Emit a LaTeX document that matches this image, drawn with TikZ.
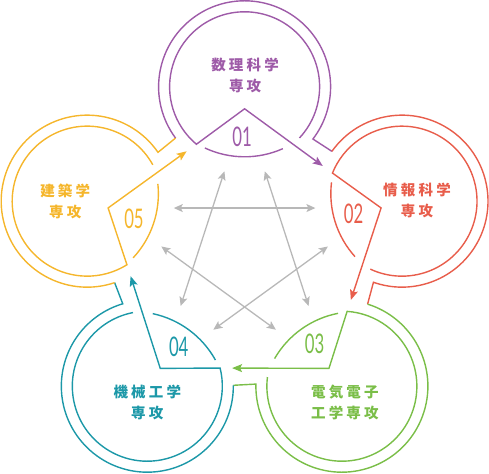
\documentclass[tikz,border=0pt]{standalone}
\usepackage{fontspec}
\usetikzlibrary{arrows.meta}
\newfontfamily\jpfont[LetterSpace=22]{Noto Sans CJK JP}
\newfontfamily\numfont[FakeStretch=0.62]{Lato}
\definecolor{cpurple}{HTML}{9E5BA8}
\definecolor{cred}{HTML}{E85D4B}
\definecolor{cgreen}{HTML}{7ABE48}
\definecolor{cteal}{HTML}{1C98A8}
\definecolor{cyellow}{HTML}{F5B62C}
\definecolor{cgray}{HTML}{B8B8B8}

\begin{document}
\begin{tikzpicture}[
    x=1pt, y=1pt,
    ring/.style={line width=1.4pt},
    flow/.style={ring, -{Stealth[length=10pt,width=8pt,inset=2pt]}, shorten >=12pt},
    link/.style={line width=1.3pt, draw=cgray, {Stealth[length=9pt,width=8pt,inset=2pt]}-{Stealth[length=9pt,width=8pt,inset=2pt]}},
    fieldname/.style={font=\jpfont\bfseries\fontsize{14.5}{21}\selectfont, align=center, inner sep=0pt},
    num/.style={font=\numfont\fontsize{27}{27}\selectfont, inner sep=0pt}
  ]
  \useasboundingbox (0,0) rectangle (489,473);

  % points of the five units
  \foreach \k in {1,...,5}{
    \pgfmathsetmacro\t{162-72*\k}
    \begin{scope}[shift={(244.6,220.7)}]
      \coordinate (g\k m) at ({\t-14}:83.5);
      \coordinate (g\k p) at ({\t+14}:83.5);
    \end{scope}
    \begin{scope}[shift={(244.6,220.7)}, shift={(\t:165.5)}, rotate=\t-90]
      \coordinate (c\k) at (0,0);
      \coordinate (a\k) at (0,-22);
      \coordinate (v\k) at (230:75);
      \coordinate (os\k) at (216.6:86);
    \end{scope}
  }

  % grey star
  \foreach \k in {1,...,5}{
    \pgfmathtruncatemacro\j{mod(\k+1,5)+1}
    \draw[link] (g\k m) -- (g\j p);
  }

  % rings and flow arrows
  \foreach \k/\col in {1/cpurple, 2/cred, 3/cgreen, 4/cteal, 5/cyellow}{
    \pgfmathsetmacro\t{162-72*\k}
    \pgfmathtruncatemacro\n{mod(\k,5)+1}
    \begin{scope}[shift={(244.6,220.7)}, shift={(\t:165.5)}, rotate=\t-90, color=\col]
      \draw[ring] (os\k) arc[start angle=216.6, end angle=-37.4, radius=86pt] -- (os\n);
      \draw[flow] (-43:75) arc[start angle=-43, end angle=230, radius=75pt] -- (a\k) -- (v\n);
      \draw[ring] (0,24) ++(245:94) arc[start angle=245, end angle=294, radius=94pt];
      \node[num] (n\k) at (-2.5,-50) {0\k};
    \end{scope}
  }

  \node[fieldname, cpurple] (f1) at ([shift={(0.5,11)}]c1) {数理科学\\専攻};
  \node[fieldname, cred] (f2) at ([shift={(15,1)}]c2) {情報科学\\専攻};
  \node[fieldname, cgreen] (f3) at ([shift={(3,-16)}]c3) {電気電子\\工学専攻};
  \node[fieldname, cteal] (f4) at ([shift={(0,-16)}]c4) {機械工学\\専攻};
  \node[fieldname, cyellow] (f5) at ([shift={(-22,0)}]c5) {建築学\\専攻};
\end{tikzpicture}
\end{document}
